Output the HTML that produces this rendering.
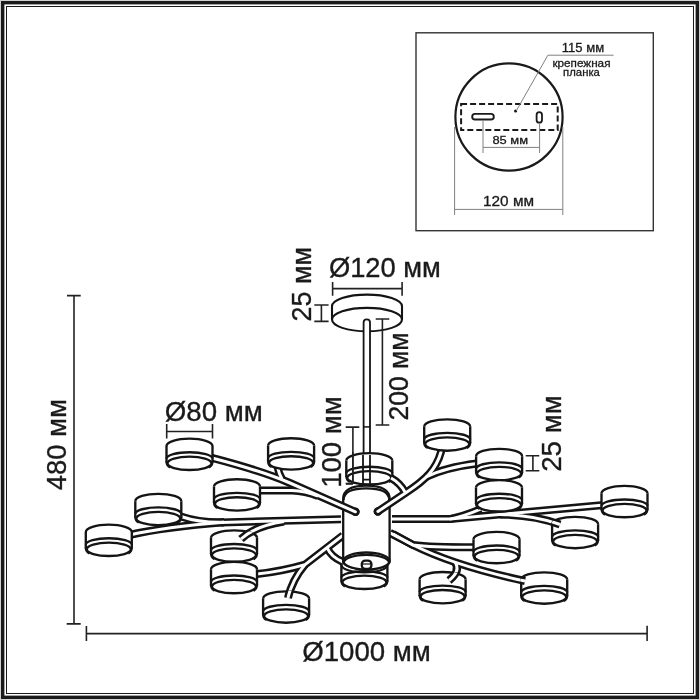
<!DOCTYPE html>
<html><head><meta charset="utf-8">
<style>
html,body{margin:0;padding:0;background:#fff;}
body{width:700px;height:700px;overflow:hidden;}
svg{display:block;will-change:transform;}
text{font-family:"Liberation Sans",sans-serif;fill:#1a1a1a;stroke:#1a1a1a;stroke-width:0.35px;}
</style></head>
<body>
<svg width="700" height="700" viewBox="0 0 700 700">
<defs>
  <g id="lamp">
    <path d="M-23,0 A23,7.4 0 0 1 23,0 L23,17.3 A23,6.8 0 0 1 -23,17.3 Z" fill="#fff" stroke="none"/>
    <g fill="none" stroke="#141414" stroke-width="2.35">
      <path d="M-23,0 A23,7.4 0 0 1 23,0"/>
      <path d="M-23,0 V16.5 M23,0 V16.5"/>
      <path d="M-23,12.5 A23,6.3 0 0 1 23,12.5"/>
      <ellipse cx="0" cy="17.3" rx="22" ry="6.7"/>
      <path d="M-23,15.5 Q-22.8,20 -19.5,21.3 M23,15.5 Q22.8,20 19.5,21.3"/>
    </g>
  </g>
</defs>

<!-- outer frame -->
<rect x="0" y="0" width="700" height="700" fill="#d0d0d0"/>
<rect x="1" y="1" width="698" height="698" fill="#1a1a1a"/>
<rect x="4.4" y="4.4" width="691.2" height="691.2" fill="#fff"/>
<rect x="6.5" y="6.5" width="687" height="687" fill="none" stroke="#1a1a1a" stroke-width="1"/>

<!-- inset box -->
<rect x="416" y="32.8" width="237.3" height="197.9" fill="none" stroke="#333" stroke-width="1.4"/>
<circle cx="509" cy="117" r="53.6" fill="none" stroke="#1a1a1a" stroke-width="2.2"/>
<rect x="461.1" y="104" width="96.6" height="26" fill="none" stroke="#1a1a1a" stroke-width="2" stroke-dasharray="6 3"/>
<rect x="472.2" y="113.9" width="21.6" height="5.6" rx="2.8" fill="none" stroke="#1a1a1a" stroke-width="1.9"/>
<rect x="536.6" y="112.2" width="5.4" height="10.4" rx="2.7" fill="none" stroke="#1a1a1a" stroke-width="1.8"/>
<circle cx="515.6" cy="111" r="1.6" fill="#1a1a1a"/>
<g stroke="#808080" stroke-width="1" fill="none">
  <path d="M613.6,55.2 H547.9 L516.3,110.8"/>
  <path d="M483,120.5 V153 M539.6,124 V153 M483,147.4 H539.6"/>
  <path d="M454.6,127 V215 M562.8,127 V215 M454.6,209.4 H562.8"/>
</g>
<text style="stroke-width:0.3px" x="561.8" y="51.8" font-size="12" textLength="42.3" lengthAdjust="spacingAndGlyphs">115 мм</text>
<text style="stroke-width:0.3px" x="552.4" y="67.1" font-size="11" textLength="58.1" lengthAdjust="spacingAndGlyphs">крепежная</text>
<text style="stroke-width:0.3px" x="563.1" y="75.5" font-size="11" textLength="36.8" lengthAdjust="spacingAndGlyphs">планка</text>
<text style="stroke-width:0.3px" x="492.4" y="144" font-size="11.5" textLength="35.6" lengthAdjust="spacingAndGlyphs">85 мм</text>
<text style="stroke-width:0.3px" x="483" y="206" font-size="14" textLength="51" lengthAdjust="spacingAndGlyphs">120 мм</text>

<!-- canopy -->
<g fill="none" stroke="#141414" stroke-width="2.1">
  <path d="M332,306.3 A35,11.7 0 0 1 402,306.3 V319.6 A35,11.7 0 0 1 332,319.6 Z" fill="#fff"/>
  <path d="M332,319.6 A35,11.7 0 0 1 402,319.6"/>
</g>
<!-- rod upper -->
<path d="M363.6,484 V322.5 A3.2,3.2 0 0 1 370,322.5 V484" fill="#fff" stroke="#141414" stroke-width="1.8"/>
<path d="M363.6,426.9 H370" stroke="#141414" stroke-width="1.5"/>

<!-- back lamps -->
<use href="#lamp" transform="translate(369.3,460.5)"/>
<path d="M363,455 V484 M370,455 V484 M363,479.7 H370" stroke="#141414" stroke-width="1.8" fill="none"/>
<path d="M352.8,452 V483.6 M345.6,483.6 H353" stroke="#1a1a1a" stroke-width="1.5" fill="none"/>
<use href="#lamp" transform="translate(364.4,565)"/>
<path d="M341.4,565 A23,7.4 0 0 0 387.4,565" fill="none" stroke="#141414" stroke-width="2.2"/>

<!-- arms behind body -->
<g fill="none">
  <g stroke="#141414" stroke-width="8">
    <path id="aB" d="M341,519.2 L221,522.5"/>
    <path id="aB10" d="M129.3,535 Q165,527 224,522.3"/>
    <path id="aB9" d="M181,516.5 Q200,523 224,522.3"/>
    <path id="aC" d="M241,539 Q255,526 284,521.5"/>
    <path id="aD" d="M343,535.3 L305,564.6 Q281,571.5 257,574"/>
    <path id="aD16" d="M305,564.6 Q292,580 288,598"/>
    <path id="aE" d="M327,547.5 Q331,557 343,562"/>
    <path id="aG" d="M392,519.1 L450,519.1 Q465,516 481,509"/>
    <path id="aG8" d="M450,519.1 L604,505"/>
    <path id="aG11" d="M500,514.4 Q535,515 560,524.5"/>
    <path id="aH" d="M390,532.9 L413,545 Q430,547.3 474,547.3"/>
    <path id="aH18" d="M393,534 L413,545 Q455,566 525,581"/>
    <path id="aH17" d="M455,562 Q461,571 449,580.5"/>
  </g>
  <g stroke="#fff" stroke-width="3">
    <use href="#aB"/><use href="#aB10"/><use href="#aB9"/><use href="#aC"/>
    <use href="#aD"/><use href="#aD16"/><use href="#aE"/>
    <use href="#aG"/><use href="#aG8"/><use href="#aG11"/>
    <use href="#aH"/><use href="#aH18"/><use href="#aH17"/>
  </g>
</g>

<!-- body -->
<g fill="none" stroke="#141414" stroke-width="2.3">
  <path d="M343.2,561 V499 C343.2,489 352,485.6 366.3,485.6 C380.6,485.6 389.6,489 389.6,499 V561 A23.2,8.5 0 0 1 343.2,561 Z" fill="#fff"/>
  <path d="M343.6,500 C343.6,491.5 352,488.4 366.3,488.4 C380.6,488.4 389.2,491.5 389.2,500"/>
  <ellipse cx="366.4" cy="561" rx="23.2" ry="8.5" fill="#fff"/>
  <path d="M343.6,563 A22.8,8.2 0 0 1 389.2,563"/>
  <rect x="361.8" y="560.6" width="9.6" height="8.4" rx="3.5" fill="#fff"/>
  <path d="M362.5,564 H371" stroke-width="1.2"/>
</g>

<!-- arms in front -->
<g fill="none">
  <g stroke="#141414" stroke-width="8">
    <path id="aA" d="M213,458.2 Q262,471 290,483 L355.4,511.8" stroke-linecap="round"/>
    <path id="aA2" d="M277.5,467 Q279,474 282,479"/>
    <path id="aA6" d="M258,490.5 L292,490.5 Q305,491 318,496"/>
    <path id="aF" d="M377.9,511.5 L407,492 C425,480 436,470 441,452" stroke-linecap="round"/>
    <path id="aF5" d="M426,477 Q445,467.5 477,463.5"/>
    <path id="a3" d="M391,478 Q400,483 405,492"/>
    <circle cx="355.4" cy="511.8" r="4.3" fill="#141414" stroke="none"/>
    <circle cx="377.9" cy="511.5" r="4.3" fill="#141414" stroke="none"/>
  </g>
  <g stroke="#fff" stroke-width="3">
    <use href="#aA"/><use href="#aA2"/><use href="#aA6"/>
    <use href="#aF"/><use href="#aF5"/><use href="#a3"/>
  </g>
</g>

<!-- lamps -->
<use href="#lamp" transform="translate(189.5,446)"/>
<use href="#lamp" transform="translate(291.1,445.6)"/>
<use href="#lamp" transform="translate(447.2,426.7)"/>
<use href="#lamp" transform="translate(499.1,456.2)"/>
<use href="#lamp" transform="translate(237,486.6)"/>
<use href="#lamp" transform="translate(499,487.5)"/>
<use href="#lamp" transform="translate(624.5,493.3)"/>
<use href="#lamp" transform="translate(158.3,501.2)"/>
<use href="#lamp" transform="translate(108.8,532)"/>
<use href="#lamp" transform="translate(575.1,524.2)"/>
<use href="#lamp" transform="translate(234,537.8)"/>
<use href="#lamp" transform="translate(496.5,539.3)"/>
<use href="#lamp" transform="translate(234,569.3)"/>
<use href="#lamp" transform="translate(286.1,598.7)"/>
<use href="#lamp" transform="translate(442.6,579.4)"/>
<use href="#lamp" transform="translate(544.2,579.7)"/>

<!-- arm tails over lamps -->
<defs>
  <path id="lampSil" d="M-24,0 A24,8.4 0 0 1 24,0 L24,17.3 A24,7.8 0 0 1 -24,17.3 Z"/>
  <clipPath id="cl12"><use href="#lampSil" transform="translate(234,537.8)"/></clipPath>
  <clipPath id="cl16"><use href="#lampSil" transform="translate(286.1,598.7)"/></clipPath>
  <clipPath id="cl17"><use href="#lampSil" transform="translate(442.6,579.4)"/></clipPath>
  <clipPath id="cl11"><use href="#lampSil" transform="translate(575.1,524.2)"/></clipPath>
  <clipPath id="cl18"><use href="#lampSil" transform="translate(544.2,579.7)"/></clipPath>
</defs>
<g fill="none">
  <g stroke="#141414" stroke-width="8">
    <use href="#aC" clip-path="url(#cl12)"/>
    <use href="#aD16" clip-path="url(#cl16)"/>
    <use href="#aH17" clip-path="url(#cl17)"/>
    <use href="#aG11" clip-path="url(#cl11)"/>
    <use href="#aH18" clip-path="url(#cl18)"/>
  </g>
  <g stroke="#fff" stroke-width="3">
    <use href="#aC" clip-path="url(#cl12)"/>
    <use href="#aD16" clip-path="url(#cl16)"/>
    <use href="#aH17" clip-path="url(#cl17)"/>
    <use href="#aG11" clip-path="url(#cl11)"/>
    <use href="#aH18" clip-path="url(#cl18)"/>
  </g>
</g>
<!-- dimension lines -->
<g stroke="#222" stroke-width="1.6" fill="none">
  <path d="M74,295.6 V623.9 M67,295.6 H80.7 M66.7,623.9 H80.7"/>
  <path d="M86.4,633.6 H647.1 M86.4,626 V641 M647.1,625.7 V641.1"/>
  <path d="M332.6,288.6 H402.1 M332.6,282 V295.7 M402.1,282 V295.7"/>
  <path d="M321.4,305 V321.4 M314.3,305 H328.6 M314.3,321.4 H328.6"/>
  <path d="M382.4,319 V425 M375.7,319 H389.3 M375.7,425 H389.3"/>
  <path d="M352.9,427.1 V484 M345.7,427.1 H359.3 M346,484 H353"/>
  <path d="M532.9,455.7 V470.7 M525.7,455.7 H539.3 M525.7,470.7 H539.3"/>
  <path d="M166.7,431.5 H212.5 M166.7,424 V438.6 M212.5,424 V438.6"/>
</g>
<text x="302.2" y="660.9" font-size="27" textLength="128.7" lengthAdjust="spacingAndGlyphs">Ø1000 мм</text>
<text x="328.9" y="277" font-size="27" textLength="112" lengthAdjust="spacingAndGlyphs">Ø120 мм</text>
<text x="164.8" y="420.6" font-size="27" textLength="98" lengthAdjust="spacingAndGlyphs">Ø80 мм</text>
<text transform="translate(66,490.2) rotate(-90)" font-size="27" textLength="91" lengthAdjust="spacingAndGlyphs">480 мм</text>
<text transform="translate(311.4,321.4) rotate(-90)" font-size="27" textLength="74.4" lengthAdjust="spacingAndGlyphs">25 мм</text>
<text transform="translate(408,420.5) rotate(-90)" font-size="27" textLength="88" lengthAdjust="spacingAndGlyphs">200 мм</text>
<text transform="translate(341.4,487.8) rotate(-90)" font-size="27" textLength="91.5" lengthAdjust="spacingAndGlyphs">100 мм</text>
<text transform="translate(561.4,471.8) rotate(-90)" font-size="27" textLength="76.5" lengthAdjust="spacingAndGlyphs">25 мм</text>

</svg>
</body></html>
